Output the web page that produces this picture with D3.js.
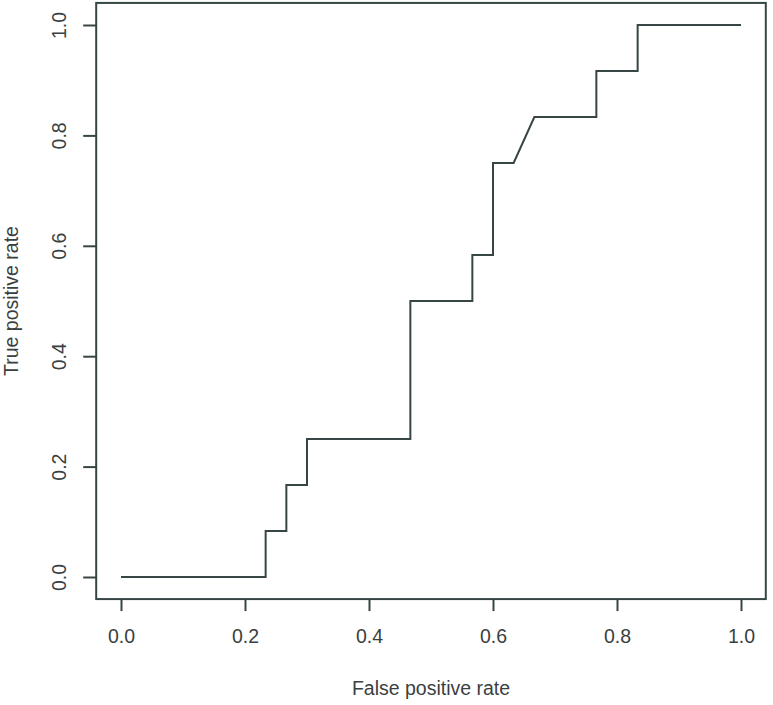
<!DOCTYPE html>
<html><head><meta charset="utf-8">
<script src="https://cdn.jsdelivr.net/npm/d3@7"></script>
<style>html,body{margin:0;padding:0;background:#fff;}</style>
</head><body>
<svg id="c" width="773" height="705"></svg>
<script>
const fpr = [0, 0.2333, 0.2333, 0.2667, 0.2667, 0.3, 0.3, 0.4667, 0.4667, 0.5667, 0.5667, 0.6, 0.6, 0.6333, 0.6667, 0.7667, 0.7667, 0.8333, 0.8333, 1.0];
const tpr = [0, 0, 0.0833, 0.0833, 0.1667, 0.1667, 0.25, 0.25, 0.5, 0.5, 0.5833, 0.5833, 0.75, 0.75, 0.8333, 0.8333, 0.9167, 0.9167, 1.0, 1.0];
const xTicks = [0, 0.2, 0.4, 0.6, 0.8, 1.0];
const yTicks = [0, 0.2, 0.4, 0.6, 0.8, 1.0];
const xLabel = "False positive rate";
const yLabel = "True positive rate";

const col = "#374645";
const txt = "#3a3f3f";
const font = "'Liberation Sans', Arial, sans-serif";
const svg = d3.select("#c");
const x = d3.scaleLinear().domain([0, 1]).range([121, 741]);
const y = d3.scaleLinear().domain([0, 1]).range([577, 25]);
const pad = 0.04;
const bx0 = x(-pad), bx1 = x(1 + pad), by0 = y(-pad), by1 = y(1 + pad);

svg.append("rect").attr("x", bx0).attr("y", by1).attr("width", bx1 - bx0).attr("height", by0 - by1)
  .attr("fill", "none").attr("stroke", col).attr("stroke-width", 2);

const pts = fpr.map((v, i) => [v, tpr[i]]);
svg.append("path").datum(pts)
  .attr("d", d3.line().x(d => x(d[0])).y(d => y(d[1])))
  .attr("fill", "none").attr("stroke", col).attr("stroke-width", 2);

const xAxis = svg.append("g").attr("transform", `translate(0,${by0})`)
  .call(d3.axisBottom(x).tickValues(xTicks).tickFormat(d3.format(".1f")).tickSize(12).tickPadding(18));
xAxis.select(".domain").remove();
xAxis.selectAll("line").attr("stroke", col).attr("stroke-width", 2);
xAxis.selectAll("text").attr("font-family", font).attr("font-size", 19.5).attr("fill", txt);

const yAxis = svg.append("g").attr("transform", `translate(${bx0},0)`)
  .call(d3.axisLeft(y).tickValues(yTicks).tickFormat(d3.format(".1f")).tickSize(13).tickPadding(0));
yAxis.select(".domain").remove();
yAxis.selectAll("line").attr("stroke", col).attr("stroke-width", 2);
yAxis.selectAll("text").attr("font-family", font).attr("font-size", 19.5).attr("fill", txt)
  .attr("text-anchor", "middle").attr("dy", null)
  .attr("transform", "translate(-37,0) rotate(-90)").attr("x", 0).attr("dominant-baseline", "central");

svg.append("text").attr("x", (x(0) + x(1)) / 2).attr("y", 695).attr("text-anchor", "middle")
  .attr("font-family", font).attr("font-size", 19.5).attr("fill", txt).text(xLabel);
svg.append("text").attr("transform", `translate(18,${(y(0) + y(1)) / 2}) rotate(-90)`).attr("text-anchor", "middle")
  .attr("font-family", font).attr("font-size", 19.5).attr("fill", txt).text(yLabel);
</script>
</body></html>
